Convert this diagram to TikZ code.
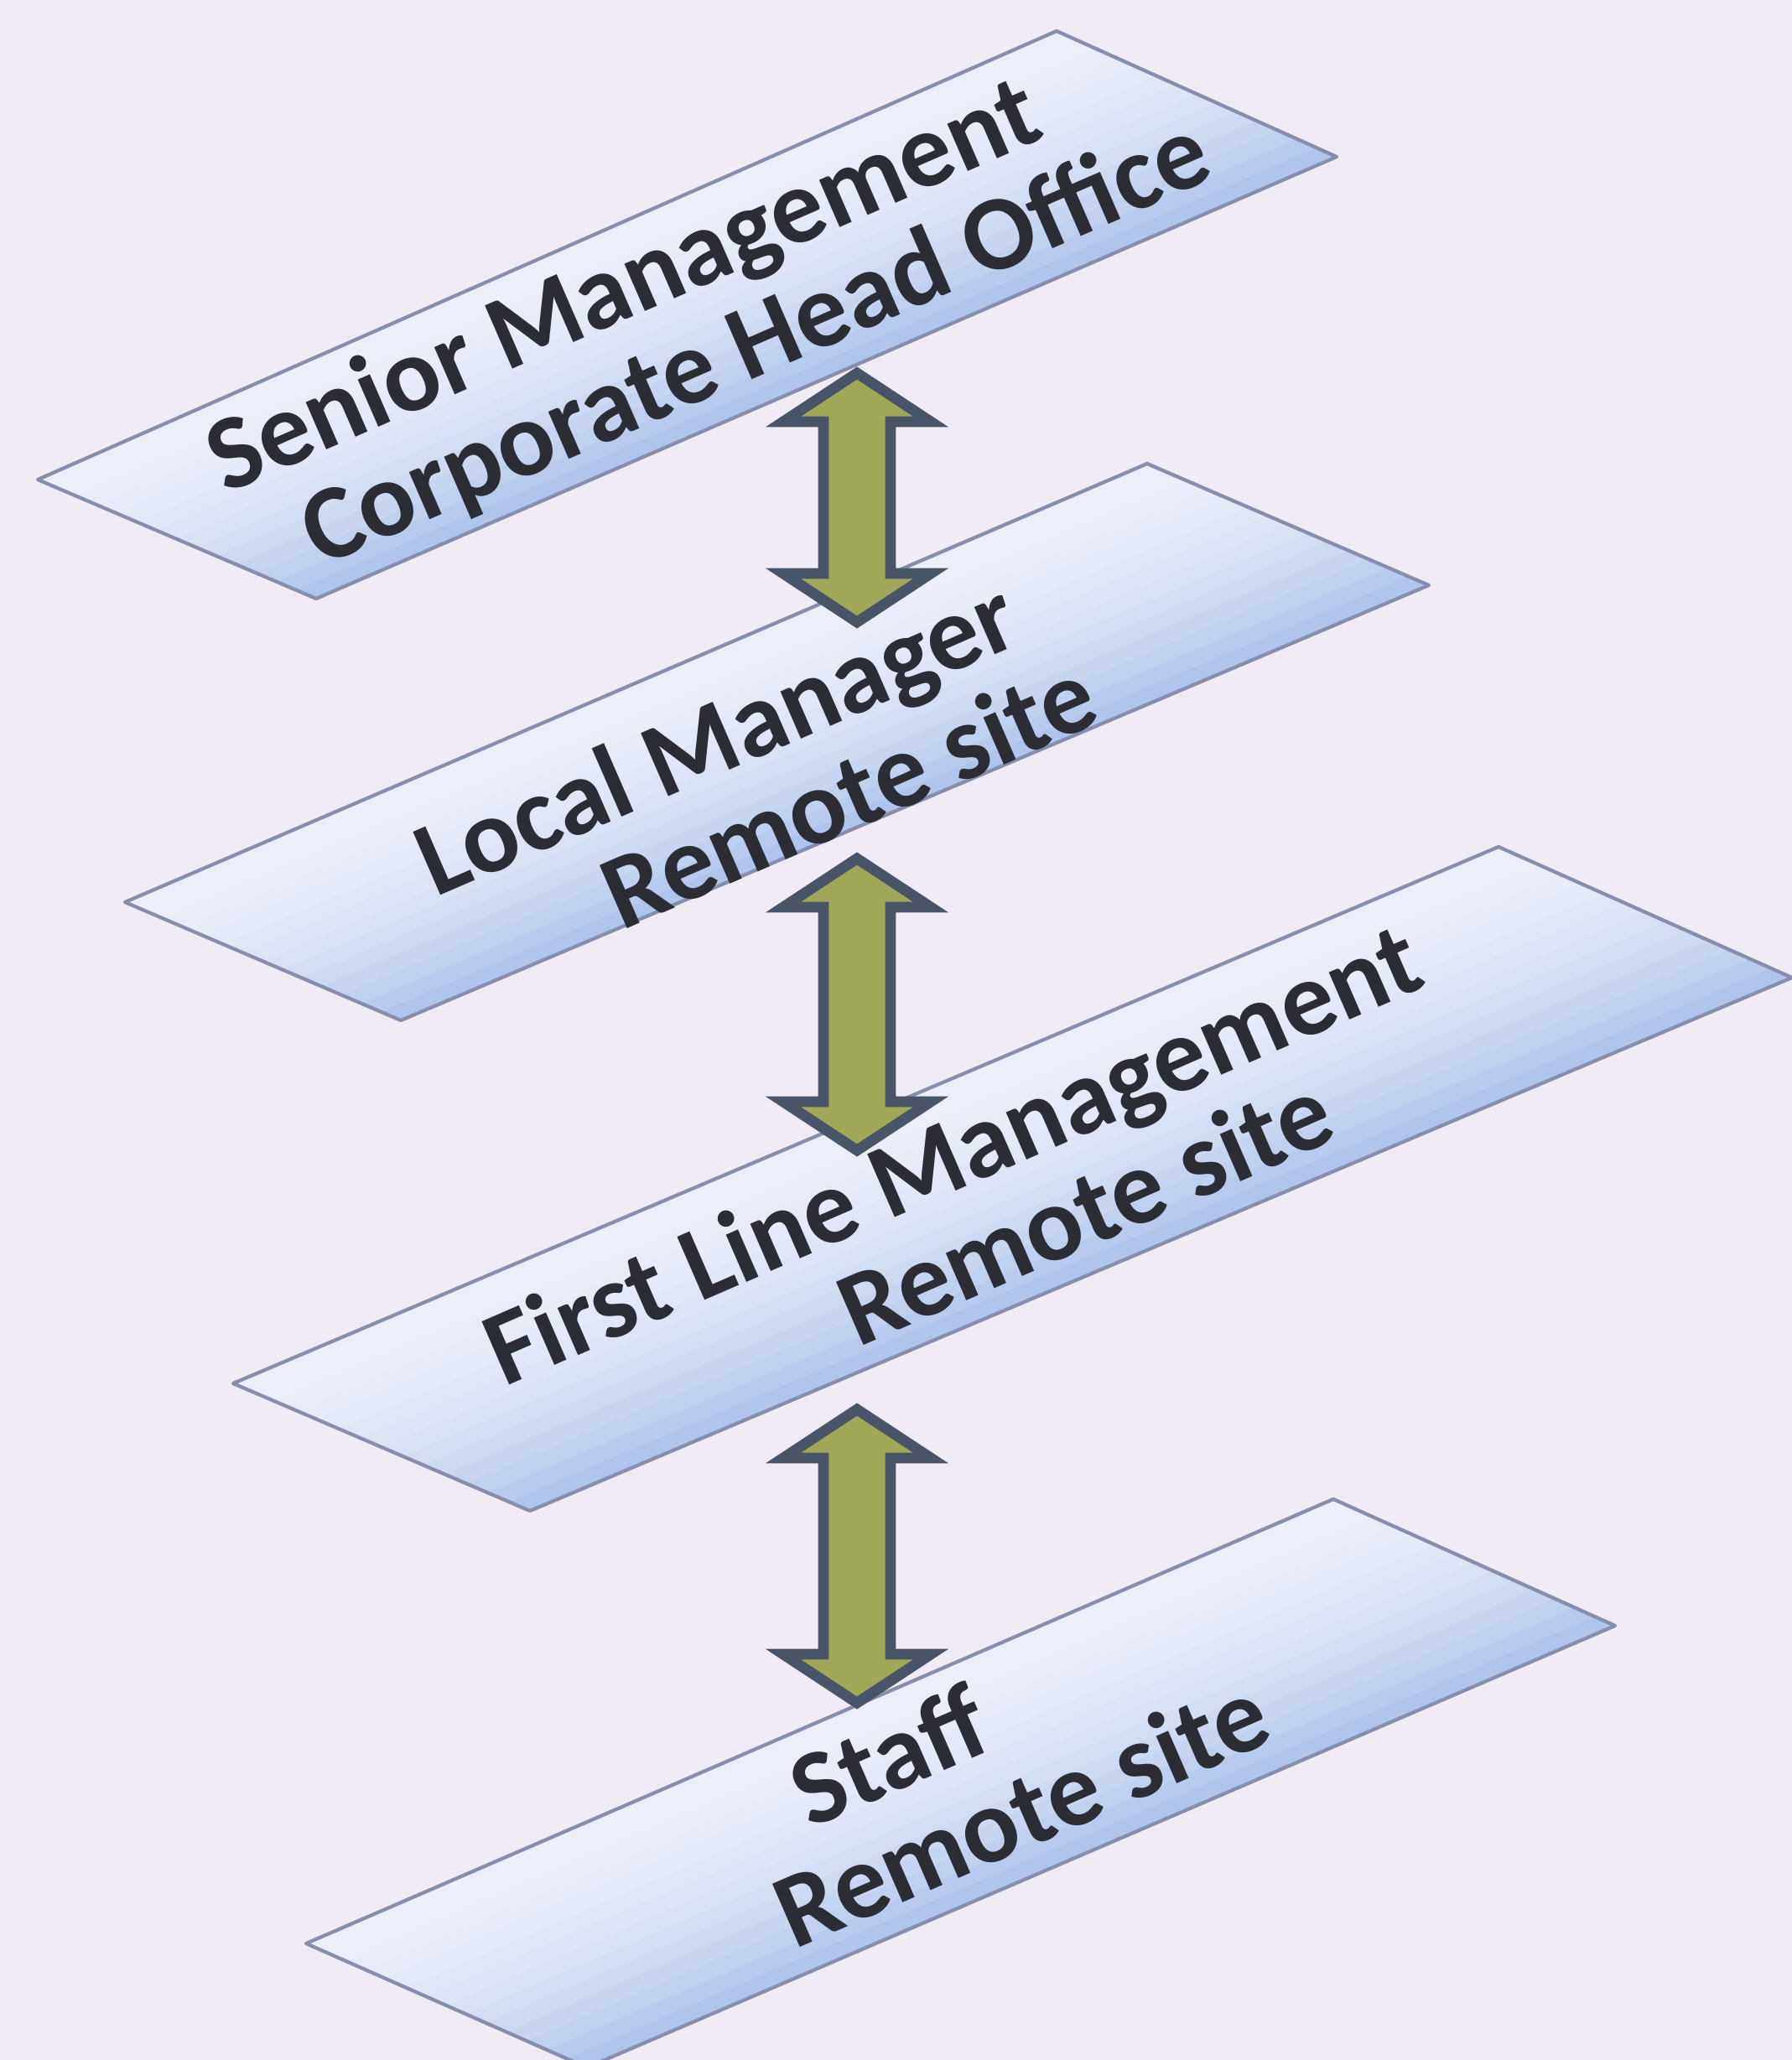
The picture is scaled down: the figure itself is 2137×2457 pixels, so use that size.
\documentclass[tikz,border=0pt]{standalone}
\usepackage{fontspec}
\setmainfont{Carlito}
\usetikzlibrary{calc}
\definecolor{pagelilac}{RGB}{240,235,245}
\definecolor{planetop}{RGB}{236,238,249}
\definecolor{planebot}{RGB}{176,197,236}
\definecolor{planeedge}{RGB}{134,142,172}
\definecolor{arrowolive}{RGB}{160,168,88}
\definecolor{arrowslate}{RGB}{74,84,104}
\definecolor{labelgray}{RGB}{44,44,52}

\begin{document}
\begin{tikzpicture}[x=0.01cm, y=-0.01cm,
    slab/.style={draw=planeedge, line width=1.2pt, line join=round},
    levtext/.style={font=\fontsize{36}{35.5}\selectfont\bfseries, text=labelgray,
                    rotate=23.5, inner sep=0pt, align=center},
    updown/.style={draw=arrowslate, fill=arrowolive, line width=3.6pt}
  ]
    \fill[pagelilac] (0,0) rectangle (2137,2457);
    \clip (0,0) rectangle (2137,2457);

    % corners of the four levels
    \coordinate (senior-w) at (45,572);
    \coordinate (senior-n) at (1260,37);
    \coordinate (senior-e) at (1594,187);
    \coordinate (senior-s) at (377,714);
    \coordinate (local-w) at (149,1076);
    \coordinate (local-n) at (1368,553);
    \coordinate (local-e) at (1704,698);
    \coordinate (local-s) at (478,1217);
    \coordinate (first-w) at (278,1650);
    \coordinate (first-n) at (1787,1010);
    \coordinate (first-e) at (2137,1166);
    \coordinate (first-s) at (632,1802);
    \coordinate (staff-w) at (365,2318);
    \coordinate (staff-n) at (1590,1788);
    \coordinate (staff-e) at (1926,1939);
    \coordinate (staff-s) at (700,2466);

    \foreach \p in {senior,local,first,staff}{
      \begin{scope}
        \clip (\p-w) -- (\p-n) -- (\p-e) -- (\p-s) -- cycle;
        \foreach \i in {0,...,13}{
          \pgfmathsetmacro\ta{\i/14}
          \pgfmathsetmacro\tb{(\i+1.3)/14}
          \pgfmathtruncatemacro\pc{100*(\i/13)^1.8}
          \fill[planebot!\pc!planetop] ($(\p-w)!\ta!(\p-s)$) -- ($(\p-n)!\ta!(\p-e)$)
            -- ($(\p-n)!\tb!(\p-e)$) -- ($(\p-w)!\tb!(\p-s)$) -- cycle;
        }
      \end{scope}
      \draw[slab] (\p-w) -- (\p-n) -- (\p-e) -- (\p-s) -- cycle;
    }

    \node[levtext] (senior-txt) at (770,402)
      {Senior Management\\\hspace*{2.36cm}Corporate Head Office};
    \node[levtext] (local-txt) at (878,935)
      {Local Manager\\\hspace*{2.36cm}Remote site};
    \node[levtext] (first-txt) at (1160,1432)
      {First Line Management\\\hspace*{2.36cm}Remote site};
    \node[levtext] (staff-txt) at (1084,2150)
      {Staff\\\hspace*{2.36cm}Remote site};

    % two-way arrows between the levels
    \coordinate (up1) at (1022,437);
    \coordinate (dn1) at (1022,750);
    \coordinate (up2) at (1022,1016);
    \coordinate (dn2) at (1022,1380);
    \coordinate (up3) at (1022,1673);
    \coordinate (dn3) at (1022,2039);
    \foreach \a/\b in {up1/dn1,up2/dn2,up3/dn3}
      \draw[updown] ($(\a)+(0,8)$) -- ($(\a)+(88,66)$) -- ($(\a)+(40,66)$)
        -- ($(\b)+(40,-66)$) -- ($(\b)+(88,-66)$) -- ($(\b)+(0,-8)$)
        -- ($(\b)+(-88,-66)$) -- ($(\b)+(-40,-66)$) -- ($(\a)+(-40,66)$)
        -- ($(\a)+(-88,66)$) -- cycle;
\end{tikzpicture}
\end{document}
